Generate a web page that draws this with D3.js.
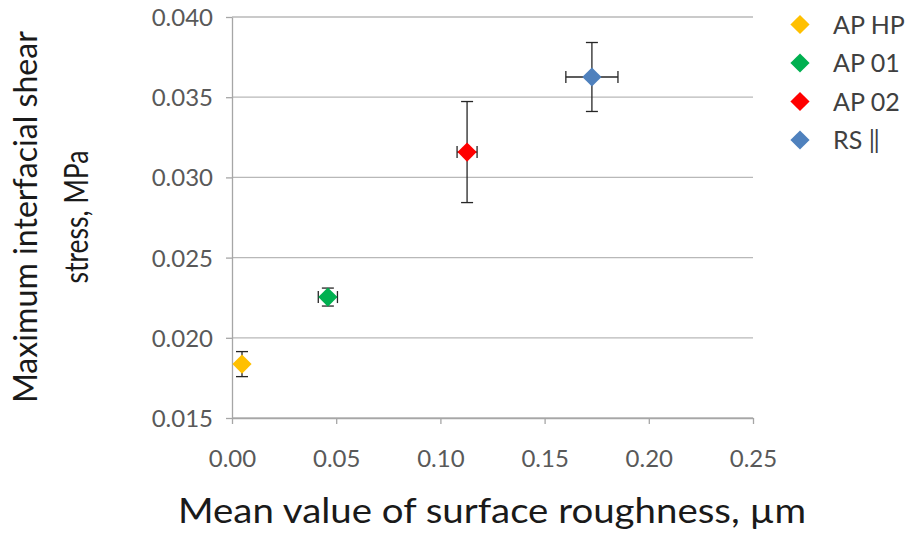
<!DOCTYPE html>
<html>
<head>
<meta charset="utf-8">
<script src="https://cdn.jsdelivr.net/npm/d3@7"></script>
<style>
  body { margin: 0; background: #fff; }
  svg { font-family: Lato, "Open Sans", sans-serif; }
</style>
</head>
<body>
<script>
// data
let series = ['AP HP', 'AP 01', 'AP 02', 'RS \u2016'];
let colorsList = ['#FFC000', '#00B050', '#FF0000', '#4F81BD'];
let roughness = [0.0048, 0.046, 0.1128, 0.1727];
let roughnessErr = [0, 0.0046, 0.0048, 0.0125];
let stress = [0.01836, 0.02254, 0.03158, 0.03626];
let stressErr = [0.00078, 0.00056, 0.00315, 0.00215];
let xTicks = [0, 0.05, 0.10, 0.15, 0.20, 0.25];
let yTicks = [0.015, 0.020, 0.025, 0.030, 0.035, 0.040];

let width = 911, height = 536;
let plotLeft = 232, plotRight = 753, plotTop = 17, plotBottom = 418;

let data = series.map((name, i) => {
  return { name: name, x: roughness[i], xe: roughnessErr[i], y: stress[i], ye: stressErr[i], color: colorsList[i] };
});

let x = d3.scaleLinear().domain([0, 0.25]).range([plotLeft, plotRight]);
let y = d3.scaleLinear().domain([0.015, 0.040]).range([plotBottom, plotTop]);

let svg = d3.select('body').append('svg')
  .attr('width', width)
  .attr('height', height);

// grid
svg.append('g')
  .selectAll('line')
  .data(yTicks)
  .enter()
  .append('line')
  .attr('x1', plotLeft).attr('x2', plotRight)
  .attr('y1', d => y(d)).attr('y2', d => y(d))
  .attr('stroke', '#b8b8b8')
  .attr('stroke-width', 1.3);

let xAxis = d3.axisBottom(x).tickValues(xTicks).tickFormat(d3.format('.2f')).tickSize(6).tickSizeOuter(0);
let yAxis = d3.axisLeft(y).tickValues(yTicks).tickFormat(d3.format('.3f')).tickSize(6).tickSizeOuter(0);

let gx = svg.append('g')
  .attr('transform', 'translate(0,' + plotBottom + ')')
  .call(xAxis);
let gy = svg.append('g')
  .attr('transform', 'translate(' + plotLeft + ',0)')
  .call(yAxis);

[gx, gy].forEach(g => {
  g.selectAll('.domain').attr('stroke', '#a6a6a6').attr('stroke-width', 1.3);
  g.selectAll('.tick line').attr('stroke', '#a6a6a6').attr('stroke-width', 1.3);
  g.selectAll('.tick text')
    .attr('fill', '#595959')
    .attr('font-size', 24)
    .attr('font-family', 'Lato, "Open Sans", sans-serif');
});
gx.selectAll('.tick text').attr('y', 0).attr('dy', 0).attr('transform', 'translate(0,49)');
gy.selectAll('.tick text').attr('x', -19).attr('dy', '0.35em');

// error bars
let err = svg.append('g').attr('stroke', '#262626').attr('stroke-width', 1.3);
data.forEach(d => {
  if (d.ye > 0) {
    err.append('line').attr('x1', x(d.x)).attr('x2', x(d.x)).attr('y1', y(d.y - d.ye)).attr('y2', y(d.y + d.ye));
    err.append('line').attr('x1', x(d.x) - 6).attr('x2', x(d.x) + 6).attr('y1', y(d.y - d.ye)).attr('y2', y(d.y - d.ye));
    err.append('line').attr('x1', x(d.x) - 6).attr('x2', x(d.x) + 6).attr('y1', y(d.y + d.ye)).attr('y2', y(d.y + d.ye));
  }
  if (d.xe > 0) {
    err.append('line').attr('x1', x(d.x - d.xe)).attr('x2', x(d.x + d.xe)).attr('y1', y(d.y)).attr('y2', y(d.y));
    err.append('line').attr('x1', x(d.x - d.xe)).attr('x2', x(d.x - d.xe)).attr('y1', y(d.y) - 6).attr('y2', y(d.y) + 6);
    err.append('line').attr('x1', x(d.x + d.xe)).attr('x2', x(d.x + d.xe)).attr('y1', y(d.y) - 6).attr('y2', y(d.y) + 6);
  }
});

let diamond = d3.symbol().type(d3.symbolDiamond2).size(235);

svg.append('g')
  .selectAll('path')
  .data(data)
  .enter()
  .append('path')
  .attr('d', diamond)
  .attr('transform', d => 'translate(' + x(d.x) + ',' + y(d.y) + ')')
  .attr('fill', d => d.color);

// legend
let legend = svg.append('g')
  .selectAll('g')
  .data(data)
  .enter()
  .append('g')
  .attr('transform', (d, i) => 'translate(800,' + (24.5 + i * 38.5) + ')');
legend.append('path')
  .attr('d', diamond)
  .attr('fill', d => d.color);
legend.append('text')
  .attr('x', 33)
  .attr('dy', '0.36em')
  .attr('font-size', 25)
  .attr('fill', '#404040')
  .text(d => d.name);

// axis titles
svg.append('text')
  .attr('text-anchor', 'middle')
  .attr('x', 492)
  .attr('y', 523)
  .attr('font-size', 35)
  .attr('textLength', 628)
  .attr('lengthAdjust', 'spacingAndGlyphs')
  .attr('fill', '#1a1a1a')
  .text('Mean value of surface roughness, \u00b5m');

let yt = svg.append('g')
  .attr('transform', 'translate(0,217)rotate(-90)');
yt.append('text')
  .attr('text-anchor', 'middle')
  .attr('x', 0).attr('y', 37)
  .attr('font-size', 33)
  .attr('textLength', 372)
  .attr('lengthAdjust', 'spacingAndGlyphs')
  .attr('fill', '#1a1a1a')
  .text('Maximum interfacial shear');
yt.append('text')
  .attr('text-anchor', 'middle')
  .attr('x', 0).attr('y', 88)
  .attr('font-size', 33)
  .attr('textLength', 133)
  .attr('lengthAdjust', 'spacingAndGlyphs')
  .attr('fill', '#1a1a1a')
  .text('stress, MPa');
</script>
</body>
</html>
